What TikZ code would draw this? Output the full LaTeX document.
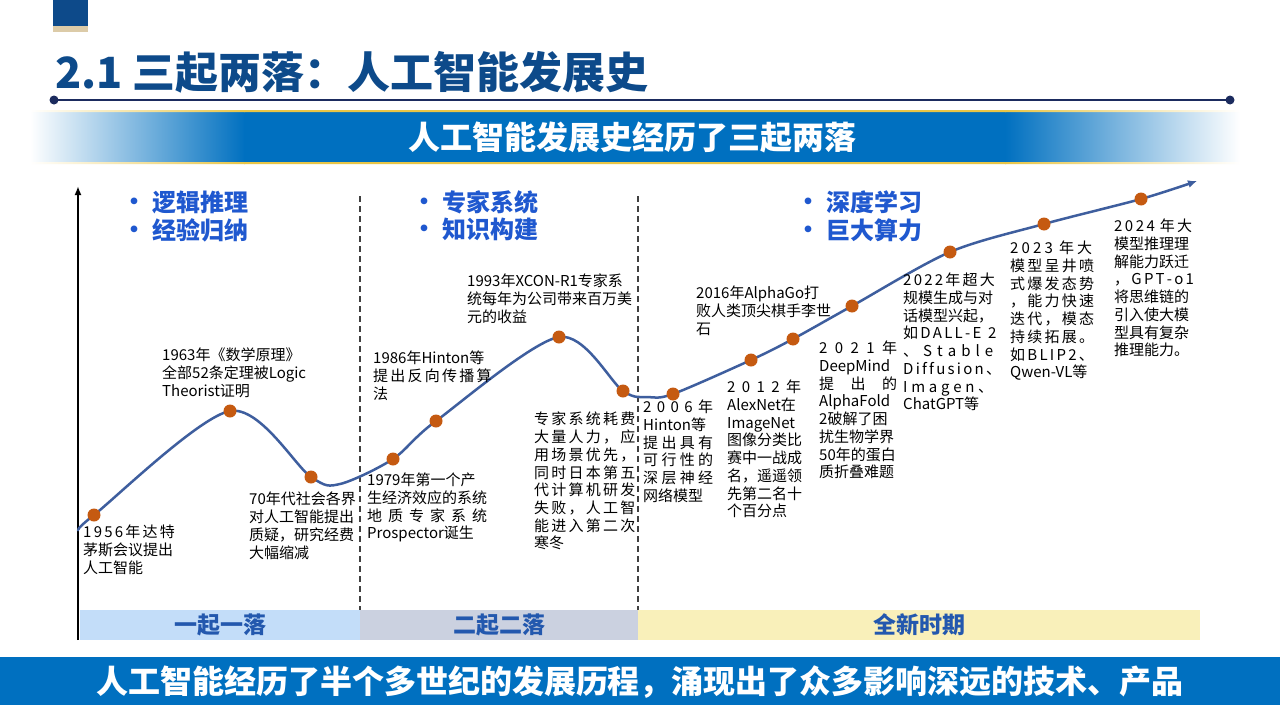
\documentclass[tikz,border=0pt]{standalone}
\usepackage{fontspec}
\setmainfont{Noto Sans CJK SC}
\usetikzlibrary{arrows.meta}
\definecolor{navy}{HTML}{0D4A8A}
\definecolor{rule}{HTML}{1B2B5E}
\definecolor{beige}{HTML}{DCCBA8}
\definecolor{bblue}{HTML}{0070C0}
\definecolor{gold}{HTML}{E8C547}
\definecolor{ptc}{HTML}{1F58CF}
\definecolor{bandtxt}{HTML}{2358AE}
\definecolor{band1}{HTML}{C3DDF9}
\definecolor{band2}{HTML}{CBD1E0}
\definecolor{band3}{HTML}{F9F0BA}
\definecolor{curvec}{HTML}{3E5E9E}
\definecolor{dotc}{HTML}{C55A11}
\newcommand\spr[2]{\makebox[#1pt][s]{#2}}
\newcommand\itemdot{\makebox[30pt][l]{\raisebox{1pt}{\fontsize{24}{24}\selectfont •}}}
\begin{document}
\begin{tikzpicture}[x=1pt, y=-1pt,
    lbl/.style={anchor=north west, align=left, inner sep=0pt, font=\fontsize{15}{17.7}\selectfont},
    pts/.style={anchor=north west, align=left, inner sep=0pt, text=ptc, font=\fontsize{24}{27.5}\selectfont\bfseries},
    band/.style={minimum height=30pt, inner sep=0pt, text=bandtxt, font=\fontsize{23}{23}\selectfont\bfseries},
    dot/.style={circle, fill=dotc, inner sep=0pt, minimum size=13pt},
    sep/.style={black!75, line width=1.5pt, dash pattern=on 6pt off 4pt},
    banner/.style={text=white, inner sep=0pt, font=\fontsize{#1}{#1}\selectfont\bfseries}]
  \useasboundingbox (0,0) rectangle (1280,720);
  \fill[white] (0,0) rectangle (1280,720);
  % header
  \fill[navy] (53,0) rectangle (88,26);
  \fill[beige] (53,26) rectangle (88,32);
  \node[anchor=west, inner sep=0pt, text=navy, font=\fontsize{43}{43}\selectfont\bfseries] (title) at (55,72) {2.1 三起两落：人工智能发展史};
  \coordinate (r0) at (54,100);
  \coordinate (r1) at (1230,100);
  \draw[rule, line width=2pt] (r0) -- (r1);
  \fill[rule] (r0) circle (4.5) (r1) circle (4.5);
  % banner
  \shade[left color=white, right color=bblue] (30,111) rectangle (245,163);
  \fill[bblue] (244,111) rectangle (1006,163);
  \shade[left color=bblue, right color=white] (1005,111) rectangle (1240,163);
  \shade[left color=white, right color=gold] (30,110) rectangle (245,112) (30,162) rectangle (245,164);
  \fill[gold] (244,110) rectangle (1006,112) (244,162) rectangle (1006,164);
  \shade[left color=gold, right color=white] (1005,110) rectangle (1240,112) (1005,162) rectangle (1240,164);
  \node[banner=32] (head) at (632,137) {人工智能发展史经历了三起两落};
  % axis and stage separators
  \coordinate (ax0) at (78,640);
  \coordinate (ax1) at (78,186);
  \draw[line width=2pt, -{Latex[length=9pt, width=7pt]}] (ax0) -- (ax1);
  \draw[sep] (360,196) -- (360,610)
             (638,196) -- (638,610);
  % stages
  \node[band, fill=band1, minimum width=280pt] (s1) at (220,625) {一起一落};
  \node[band, fill=band2, minimum width=278pt] (s2) at (499,625) {二起二落};
  \node[band, fill=band3, minimum width=562pt] (s3) at (919,625) {全新时期};
  \node[pts] (k1) at (122,191) {\itemdot 逻辑推理\\\itemdot 经验归纳};
  \node[pts] (k2) at (412,190) {\itemdot 专家系统\\\itemdot 知识构建};
  \node[pts] (k3) at (796,191) {\itemdot 深度学习\\\itemdot 巨大算力};
  % curve
  \coordinate (y56) at (94,515);
  \coordinate (y63) at (230,411);
  \coordinate (y70) at (311,477);
  \coordinate (y79) at (393,459);
  \coordinate (y86) at (436,421);
  \coordinate (y93) at (559,337);
  \coordinate (y87) at (623,391);
  \coordinate (y06) at (673,394);
  \coordinate (y12) at (751,360);
  \coordinate (y16) at (793,339);
  \coordinate (y21) at (852,306);
  \coordinate (y22) at (950,252);
  \coordinate (y23) at (1044,224);
  \coordinate (y24) at (1141,199);
  \coordinate (c0) at (79,530);
  \coordinate (c1) at (1197,181);
  \draw[curvec, line width=2.5pt, -{Latex[length=9pt, width=8pt]}] plot[smooth] coordinates {(c0) (y56) (y63) (y70) (340,484) (y79) (y86) (y93) (y87) (648,397) (y06) (y12) (y16) (y21) (y22) (y23) (y24) (c1)};
  \foreach \y in {56,63,70,79,86,93,87,06,12,16,21,22,23,24}
    \node[dot] (d\y) at (y\y) {};
  % events
  \node[lbl] (t56) at (83,525) {\spr{90}{1 9 5 6 年 达 特}\\茅斯会议提出\\人工智能};
  \node[lbl] (t63) at (162,348) {1963年《数学原理》\\全部52条定理被Logic\\Theorist证明};
  \node[lbl] (t70) at (249,492) {70年代社会各界\\对人工智能提出\\质疑，研究经费\\大幅缩减};
  \node[lbl] (t79) at (367,473) {1979年第一个产\\生经济效应的系统\\\spr{120}{地 质 专 家 系 统}\\Prospector诞生};
  \node[lbl] (t86) at (373,351) {1986年Hinton等\\\spr{117}{提 出 反 向 传 播 算}\\法};
  \node[lbl] (t93) at (467,274) {1993年XCON-R1专家系\\统每年为公司带来百万美\\元的收益};
  \node[lbl] (t87) at (534,412) {\spr{98}{专 家 系 统 耗 费}\\\spr{98}{大 量 人 力 ， 应}\\\spr{98}{用 场 景 优 先 ，}\\\spr{98}{同 时 日 本 第 五}\\\spr{98}{代 计 算 机 研 发}\\\spr{98}{失 败 ， 人 工 智}\\\spr{98}{能 进 入 第 二 次}\\寒冬};
  \node[lbl] (t06) at (643,400) {\spr{70}{2 0 0 6 年}\\Hinton等\\\spr{70}{提 出 具 有}\\\spr{70}{可 行 性 的}\\\spr{70}{深 层 神 经}\\网络模型};
  \node[lbl] (t12) at (727,380) {\spr{74}{2 0 1 2 年}\\AlexNet在\\ImageNet\\图像分类比\\赛中一战成\\名，遥遥领\\先第二名十\\个百分点};
  \node[lbl] (t16) at (696,286) {2016年AlphaGo打\\败人类顶尖棋手李世\\石};
  \node[lbl] (t21) at (819,341) {\spr{78}{2 0 2 1 年}\\DeepMind\\\spr{78}{提 出 的}\\AlphaFold\\2破解了困\\扰生物学界\\50年的蛋白\\质折叠难题};
  \node[lbl] (t22) at (903,273) {\spr{90}{2 0 2 2 年 超 大}\\规模生成与对\\话模型兴起，\\\spr{90}{如 D A L L - E \ \ 2}\\\spr{90}{、 S t a b l e}\\\spr{90}{D i f f u s i o n 、}\\\spr{90}{I m a g e n 、}\\ChatGPT等};
  \node[lbl] (t23) at (1010,241) {\spr{82}{2 0 2 3 \ 年 大}\\\spr{82}{模 型 呈 井 喷}\\\spr{82}{式 爆 发 态 势}\\\spr{82}{， 能 力 快 速}\\\spr{82}{迭 代 ， 模 态}\\\spr{82}{持 续 拓 展 。}\\\spr{72}{如 B L I P 2 、}\\Qwen-VL等};
  \node[lbl] (t24) at (1114,219) {\spr{78}{2 0 2 4 \ 年 大}\\模型推理理\\解能力跃迁\\\spr{78}{， G P T - o 1}\\将思维链的\\引入使大模\\型具有复杂\\推理能力。};
  % footer
  \fill[bblue] (0,657) rectangle (1280,705);
  \node[banner=32] (foot) at (640,682) {人工智能经历了半个多世纪的发展历程，涌现出了众多影响深远的技术、产品};
\end{tikzpicture}
\end{document}
